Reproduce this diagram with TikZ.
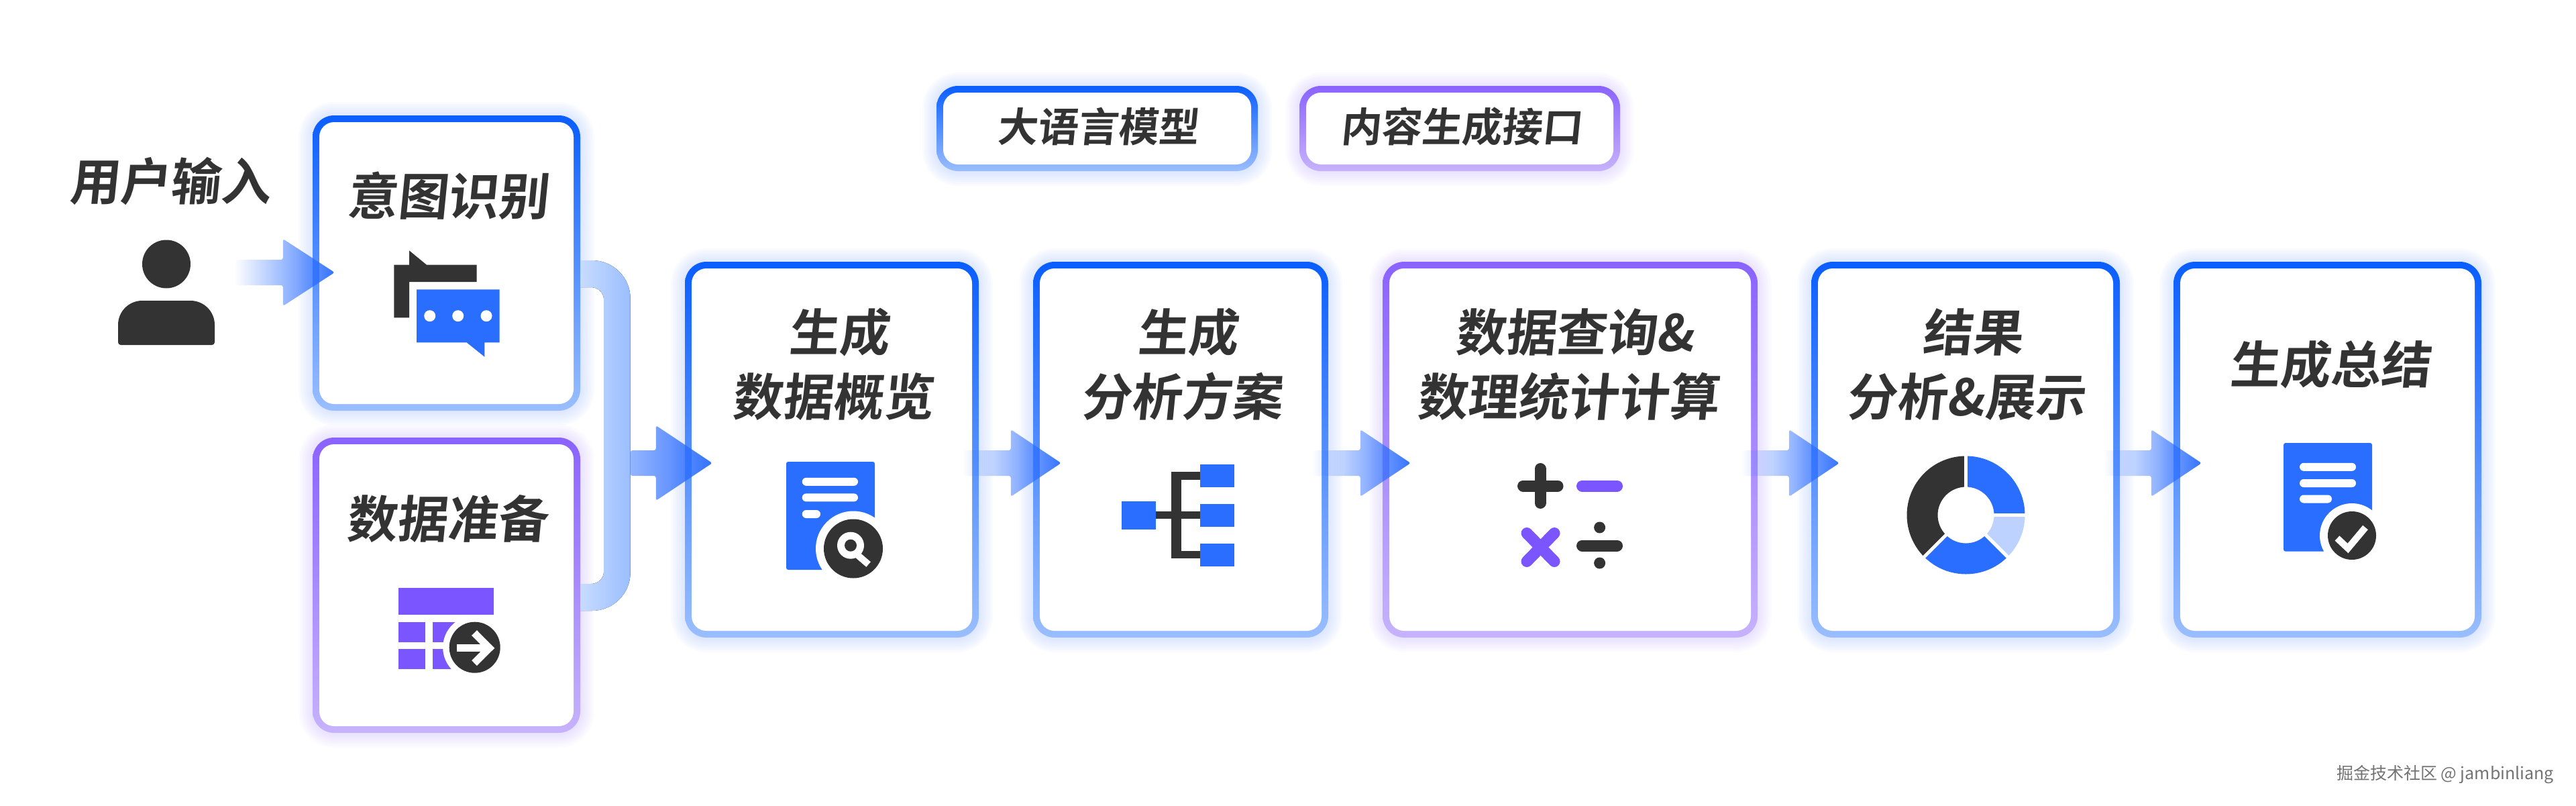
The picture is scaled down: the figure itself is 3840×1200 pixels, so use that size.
\documentclass[tikz,border=0pt]{standalone}
\usepackage{fontspec}
\usetikzlibrary{calc,fadings}
\newfontfamily\cjk{Noto Sans CJK SC Bold}
\newfontfamily\cjkplain{Noto Sans CJK SC}
\definecolor{ink}{HTML}{333333}
\definecolor{bluetop}{HTML}{0A5EFF}
\definecolor{bluebot}{HTML}{9ABEFF}
\definecolor{purptop}{HTML}{8A63FF}
\definecolor{purpbot}{HTML}{C6B2FC}
\definecolor{blueglow}{HTML}{8FB4FF}
\definecolor{purpglow}{HTML}{BDA8FF}
\definecolor{iconblue}{HTML}{2A6EFF}
\definecolor{iconpurp}{HTML}{7B55FF}
\definecolor{iconlight}{HTML}{BDD2FF}
\definecolor{flowblue}{HTML}{2A6CFF}
\tikzfading[name=flowfade,left color=transparent!100,right color=transparent!5]
\tikzfading[name=mainfade,left color=transparent!50,right color=transparent!5]
\tikzset{
  label75/.style={text=ink,align=center,inner sep=0pt,font=\cjk\fontsize{75}{96}\selectfont},
  label60/.style={text=ink,align=center,inner sep=0pt,font=\cjk\fontsize{60}{72}\selectfont},
  cardouter/.style={inner sep=0pt,rounded corners=32pt},
  cardinner/.style={inner sep=0pt,rounded corners=22pt,fill=white},
  flowfill/.style={fill=flowblue,path fading=flowfade,rounded corners=3pt},
  mainfill/.style={fill=flowblue,path fading=mainfade,rounded corners=3pt},
  whitebar/.style={fill=white,rounded corners=6pt},
  darkfill/.style={fill=ink},
  bluefill/.style={fill=iconblue},
  purpfill/.style={fill=iconpurp},
  mathstroke/.style={line width=17pt,line cap=round},
}
% name, left, top, right, bottom, top colour, bottom colour, glow colour
\newcommand{\card}[8]{%
  \foreach \e in {3,6,...,21}{
    \fill[#8,opacity=.045,rounded corners={(32+\e)*1pt}] ({#2-\e},{#3-\e+1}) rectangle ({#4+\e},{#5+\e+1});
  }
  \node[cardouter,top color=#6,bottom color=#7,minimum width={(#4-#2)*1pt},minimum height={(#5-#3)*1pt}] (#1) at ({(#2+#4)/2},{(#3+#5)/2}) {};
  \node[cardinner,minimum width={(#4-#2-20)*1pt},minimum height={(#5-#3-20)*1pt}] (#1-in) at (#1.center) {};
}
% style, slant, name, x, y, text
\newcommand{\lab}[6]{%
  \node[#1,shift={(#4,#5)},xslant=#2,transform shape] (#3) at (0,0) {#6};
}
% tail point, tip point, half-width of head, head length, style
\newcommand{\flow}[5]{%
  \fill[#5] ($#1+(0,-19)$) -- ($#2+(-#4,0)+(0,-19)$) -- ($#2+(-#4,-#3)$) -- #2 -- ($#2+(-#4,#3)$) -- ($#2+(-#4,0)+(0,19)$) -- ($#1+(0,19)$) -- cycle;
}
\begin{document}
\begin{tikzpicture}[x=1pt,y=-1pt]
\useasboundingbox (0,0) rectangle (3840,1200);
\fill[white] (0,0) rectangle (3840,1200);

% cards
\card{legendllm}{1396}{128}{1875}{255}{bluetop}{bluebot}{blueglow}
\card{legendapi}{1937}{128}{2415}{255}{purptop}{purpbot}{purpglow}
\card{intent}{466}{172}{865}{612}{bluetop}{bluebot}{blueglow}
\card{prep}{466}{652}{865}{1092}{purptop}{purpbot}{purpglow}
\card{overview}{1021}{390}{1459}{950}{bluetop}{bluebot}{blueglow}
\card{plan}{1540}{390}{1980}{950}{bluetop}{bluebot}{blueglow}
\card{query}{2061}{390}{2620}{950}{purptop}{purpbot}{purpglow}
\card{result}{2700}{390}{3160}{950}{bluetop}{bluebot}{blueglow}
\card{summary}{3240}{390}{3699}{950}{bluetop}{bluebot}{blueglow}

% labels
\lab{label75}{.1}{tuser}{256}{270}{用户输入}
\lab{label75}{.1}{tintent}{670}{292}{意图识别}
\lab{label75}{.1}{tprep}{669}{773}{数据准备}
\lab{label75}{.1}{toverview}{1249}{543}{生成\\数据概览}
\lab{label75}{.1}{tplan}{1769}{543}{生成\\分析方案}
\lab{label75}{.1}{tquery}{2345}{543}{数据查询\&\\数理统计计算}
\lab{label75}{.1}{tresult}{2938}{543}{结果\\分析\&展示}
\lab{label75}{.1}{tsummary}{3476}{543}{生成总结}
\lab{label60}{.1}{tllm}{1639}{189}{大语言模型}
\lab{label60}{.1}{tapi}{2181}{189}{内容生成接口}
\node[text=black!55,inner sep=0pt,font=\cjkplain\fontsize{25}{30}\selectfont] (mark) at (3645,1154) {掘金技术社区 @ jambinliang};

% user icon
\fill[darkfill] (248,393.5) circle (36pt);
\fill[darkfill] (248,514) [rounded corners=4pt] -- (176,514) [rounded corners=36pt] -- (176,448) -- (320,448) [rounded corners=4pt] -- (320,514) -- cycle;
\coordinate (user) at (320,406);

% chat icon
\fill[darkfill] (610,373.3) -- (636,394.7) -- (710.7,394.7) -- (710.7,420) -- (610,420) -- (610,473.3) -- (587.3,473.3) -- (587.3,394.7) -- (610,394.7) -- cycle;
\fill[bluefill] (621,431.3) -- (744.7,431.3) -- (744.7,510.3) -- (722.3,510.3) -- (722.3,531.7) -- (695.7,510.3) -- (621,510.3) -- cycle;
\fill[white] (640.7,470.7) circle (8.5pt) (682.7,470.7) circle (8.5pt) (725,470.7) circle (8.5pt);

% table icon
\fill[purpfill] (594,876) rectangle (735.7,916.3);
\fill[purpfill] (594,926.7) rectangle (634.3,957);
\fill[purpfill] (594,967) rectangle (634.3,997.3);
\fill[purpfill] (644.7,926.7) rectangle (700,957);
\fill[purpfill] (644.7,967) rectangle (700,997.3);
\fill[white] (707.7,964.7) circle (47.5pt);
\fill[darkfill] (707.7,964.7) circle (38pt);
\draw[white,line width=11pt] (680.7,965.7) -- (728,965.7);
\draw[white,line width=11pt,miter limit=4] (707,943) -- (729.5,965.7) -- (707,988);

% overview document icon
\fill[bluefill,rounded corners=3pt] (1172,688) rectangle (1304,849);
\fill[whitebar] (1195.7,711.8) rectangle (1279,723.8);
\fill[whitebar] (1195.7,735.4) rectangle (1279,747.4);
\fill[whitebar] (1195.7,760) rectangle (1223,772);
\fill[white] (1272,817.5) circle (56pt);
\fill[darkfill] (1272,817.5) circle (44pt);
\fill[white] (1268,812.7) circle (20pt);
\fill[darkfill] (1268,812.7) circle (9pt);
\draw[white,line width=10pt] (1276,825) -- (1294.6,841);

% tree icon
\fill[bluefill] (1672,747) rectangle (1723.3,789);
\fill[bluefill] (1789,692) rectangle (1839.7,725.7);
\fill[bluefill] (1789,751) rectangle (1839.7,784.6);
\fill[bluefill] (1789,810.4) rectangle (1839.7,844);
\fill[darkfill] (1745.7,703) rectangle (1761,832.3);
\fill[darkfill] (1745.7,703) rectangle (1789,714.5);
\fill[darkfill] (1723.3,762) rectangle (1789,773);
\fill[darkfill] (1745.7,821) rectangle (1789,832.3);

% math icon
\draw[ink,mathstroke] (2270.5,724) -- (2322,724);
\draw[ink,mathstroke] (2296,698.5) -- (2296,749.5);
\draw[iconpurp,mathstroke] (2358.5,724) -- (2410.5,724);
\draw[iconpurp,mathstroke] (2276,794.5) -- (2317,836.5);
\draw[iconpurp,mathstroke] (2317,794.5) -- (2276,836.5);
\draw[ink,mathstroke] (2358.5,813) -- (2410.5,813);
\fill[darkfill] (2384.6,786) circle (8.5pt) (2384.6,839) circle (8.5pt);

% donut icon
\begin{scope}[shift={(2930.5,767.5)},y=1pt]
\fill[bluefill] (0:42pt) -- (0:88pt) arc[start angle=0,end angle=90,radius=88pt] -- (90:42pt) arc[start angle=90,end angle=0,radius=42pt] -- cycle;
\fill[iconlight] (-45:42pt) -- (-45:88pt) arc[start angle=-45,end angle=0,radius=88pt] -- (0:42pt) arc[start angle=0,end angle=-45,radius=42pt] -- cycle;
\fill[bluefill] (-135:42pt) -- (-135:88pt) arc[start angle=-135,end angle=-45,radius=88pt] -- (-45:42pt) arc[start angle=-45,end angle=-135,radius=42pt] -- cycle;
\fill[darkfill] (90:42pt) -- (90:88pt) arc[start angle=90,end angle=225,radius=88pt] -- (225:42pt) arc[start angle=225,end angle=90,radius=42pt] -- cycle;
\foreach \a in {90,0,-45,-135}{\draw[white,line width=5pt] (\a:38pt) -- (\a:92pt);}
\end{scope}

% summary document icon
\fill[bluefill,rounded corners=3pt] (3404,660) rectangle (3536,821.7);
\fill[whitebar] (3428,689.8) rectangle (3512,701.8);
\fill[whitebar] (3428,714) rectangle (3512,726);
\fill[whitebar] (3428,737.5) rectangle (3476,749.5);
\fill[white] (3506,798) circle (48pt);
\fill[darkfill] (3506,798) circle (36pt);
\draw[white,line width=10pt] (3484,802) -- (3500,817) -- (3526,786);

% connectors
\coordinate (mergeA) at ($(intent.east)+(0,-4)$);
\coordinate (mergeB) at ($(prep.east)+(0,38)$);
\fill[left color=bluebot!55!white,right color=bluebot] (mergeA) [rounded corners=57pt] -- ++(74.5,0) -- ($(mergeB)+(74.5,0)$) [sharp corners] -- (mergeB) -- ++(0,-40) [rounded corners=19pt] -- ++(35,0) -- ($(mergeA)+(35,40)$) [sharp corners] -- ($(mergeA)+(0,40)$) -- cycle;

\coordinate (m1) at ($(intent.east)+(74.5,298)$);
\coordinate (m2) at ($(overview.west)+(41,20)$);
\flow{(m1)}{(m2)}{56}{84}{mainfill}

\coordinate (a1) at ($(user)+(30,0)$);
\coordinate (a2) at ($(intent.west)+(33,14)$);
\flow{(a1)}{(a2)}{50}{77}{flowfill}

\coordinate (b1) at ($(overview.east)+(-24,20)$);
\coordinate (b2) at ($(plan.west)+(42,20)$);
\flow{(b1)}{(b2)}{50}{75}{flowfill}
\coordinate (c1) at ($(plan.east)+(-24,20)$);
\coordinate (c2) at ($(query.west)+(42,20)$);
\flow{(c1)}{(c2)}{50}{75}{flowfill}
\coordinate (d1) at ($(query.east)+(-24,20)$);
\coordinate (d2) at ($(result.west)+(42,20)$);
\flow{(d1)}{(d2)}{50}{75}{flowfill}
\coordinate (e1) at ($(result.east)+(-24,20)$);
\coordinate (e2) at ($(summary.west)+(42,20)$);
\flow{(e1)}{(e2)}{50}{75}{flowfill}
\end{tikzpicture}
\end{document}
